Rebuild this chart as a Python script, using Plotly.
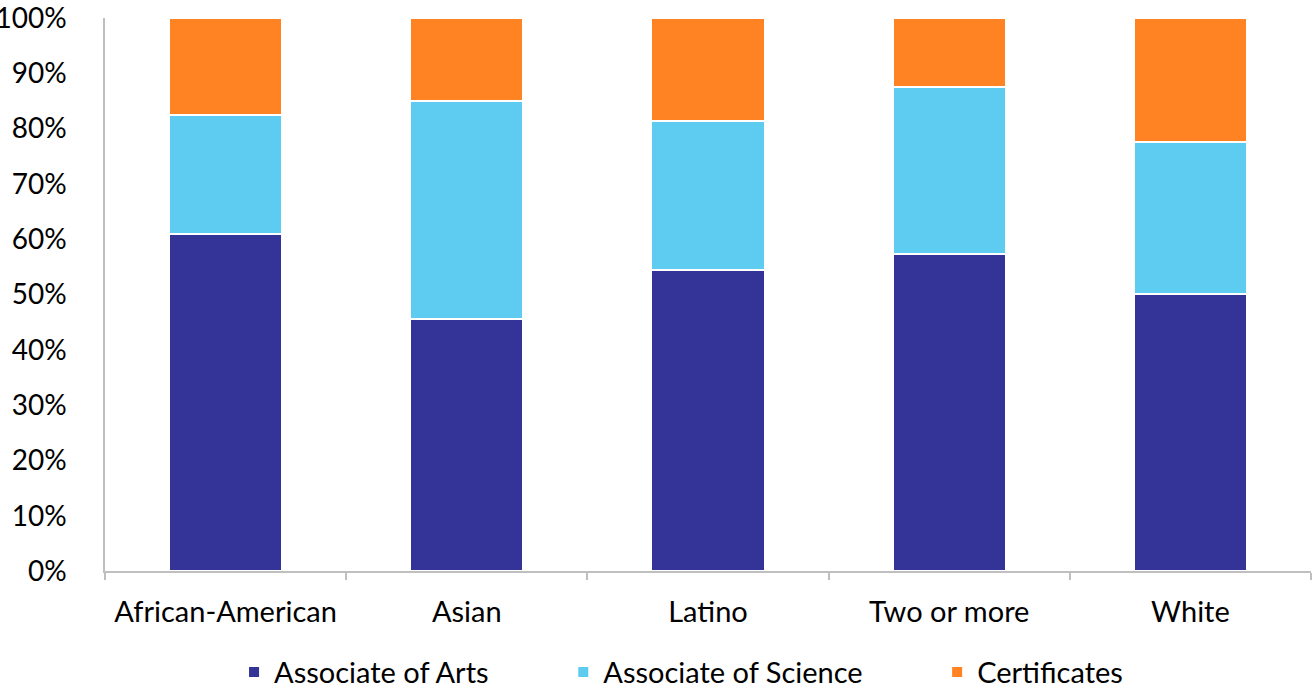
import plotly.graph_objects as go

categories = ["African-American", "Asian", "Latino", "Two or more", "White"]
associate_arts = [61.0, 45.6, 54.5, 57.4, 50.1]
associate_science = [21.4, 39.4, 26.9, 30.2, 27.5]
certificates = [17.6, 15.0, 18.6, 12.4, 22.4]
y_ticks = [0, 10, 20, 30, 40, 50, 60, 70, 80, 90, 100]
y_tick_labels = [f"{v}%" for v in y_ticks]

FONT = "Lato, 'Open Sans', sans-serif"

series = [
    ("Associate of Arts", associate_arts, "#343397", "legend", 0.107),
    ("Associate of Science", associate_science, "#5ECCF0", "legend2", 0.380),
    ("Certificates", certificates, "#FF8223", "legend3", 0.690),
]

fig = go.Figure()
legend_layout = {}
for name, vals, color, lg, lx in series:
    fig.add_trace(go.Bar(
        x=categories, y=vals, name=name, legend=lg, showlegend=True,
        marker=dict(color=color, line=dict(color="white", width=2)),
    ))
    legend_layout[lg] = dict(visible=True, orientation="h", x=lx, xanchor="left", y=-0.183,
                             yanchor="middle", font=dict(size=29, color="#000000"),
                             itemwidth=30, bgcolor="rgba(0,0,0,0)", borderwidth=0)

fig.update_layout(
    barmode="stack",
    bargap=0.53,
    width=1314, height=692,
    showlegend=True,
    margin=dict(l=105, r=3, t=18, b=121, autoexpand=False),
    paper_bgcolor="white", plot_bgcolor="white",
    font=dict(family=FONT, size=28, color="#000000"),
    xaxis=dict(showline=True, linecolor="#BFBFBF", linewidth=1.5, ticks="outside",
               tickson="boundaries", ticklen=7, tickcolor="#BFBFBF", tickwidth=1.5,
               showgrid=False, tickfont=dict(size=29), automargin=False,
               ticklabelstandoff=14),
    yaxis=dict(range=[0, 100], tickvals=y_ticks, ticktext=y_tick_labels,
               showline=True, linecolor="#BFBFBF", linewidth=1.5, showgrid=False,
               ticks="", zeroline=False, ticklabelstandoff=31, tickfont=dict(size=28),
               automargin=False, ticklabeloverflow="allow"),
    **legend_layout,
)

fig.write_html("out.html", config={"displayModeBar": False},
               post_script="document.body.style.margin='0';document.body.style.overflow='hidden';")
